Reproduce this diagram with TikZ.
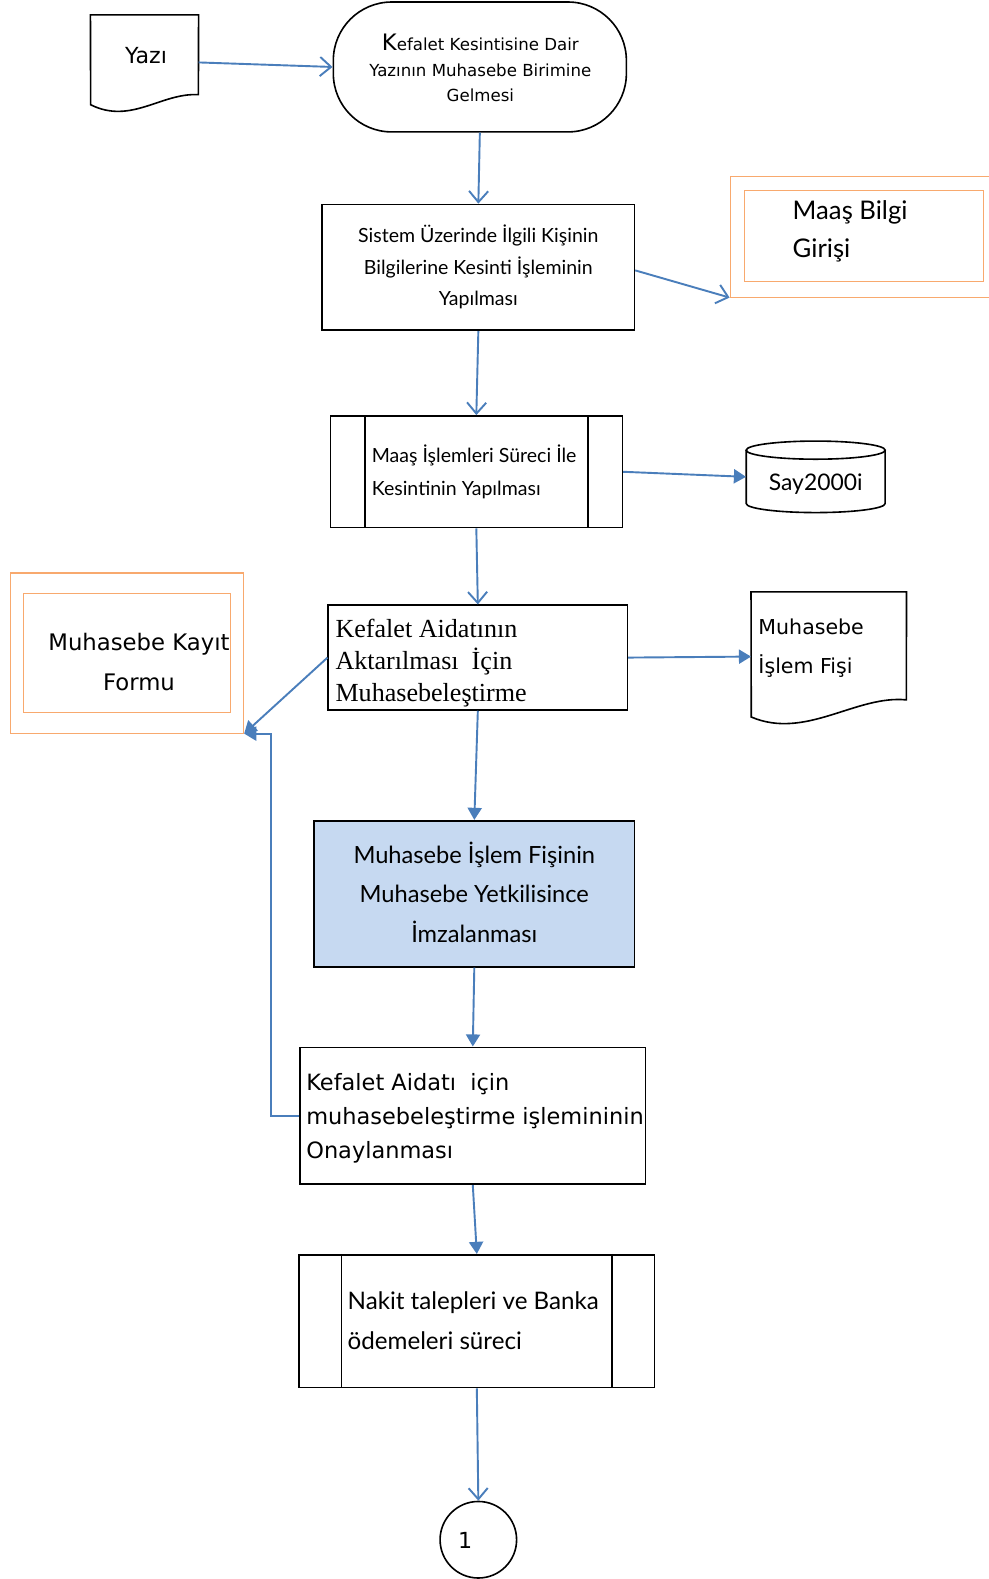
\documentclass[tikz,border=0pt]{standalone}
\usepackage{fontspec}
\usetikzlibrary{arrows.meta,calc}
\newfontfamily\tah{DejaVu Sans}
\newfontfamily\gil{Lato}
\newfontfamily\tnr{Liberation Serif}
\definecolor{ablue}{HTML}{4A7EBB}
\definecolor{orng}{HTML}{F8A96E}
\definecolor{lblue}{HTML}{C6D9F1}
\tikzset{
  proc/.style={draw=black, line width=1.6pt, inner sep=0pt, rectangle},
  ghost/.style={inner sep=0pt, rectangle},
  obox/.style={draw=orng, line width=1pt, inner sep=0pt, rectangle},
  oarr/.style={ablue, line width=1.9pt, -{Straight Barb[length=11pt,width=19pt,line width=1.9pt]}},
  farr/.style={ablue, line width=1.9pt, -{Triangle[length=12pt,width=14pt]}},
  txt/.style={inner sep=0pt, text=black},
}
\begin{document}
\begin{tikzpicture}[x=1pt,y=-1pt]
\useasboundingbox (0,0) rectangle (982,1568);
\fill[white] (0,0) rectangle (982,1568);

% Yazi document
\node[ghost, minimum width=107pt, minimum height=94pt] (yazi) at (143.5,62) {};
\draw[line width=1.6pt] (yazi.north west) -- (yazi.north east) -- (197,94) .. controls (160,92) and (130,124) .. (90,104) -- cycle;
\node[txt, font=\tah\fontsize{22}{26}\selectfont] (yazit) at (145,55) {Yazı};

% terminator
\node[proc, rounded corners=58pt, minimum width=291pt, minimum height=129pt] (term) at (476.5,66.5) {};
\node[txt, align=center, font=\tah\fontsize{16.5}{25.5}\selectfont] (termt) at (477,67.5) {{\fontsize{22.5}{25.5}\selectfont K}efalet Kesintisine Dair\\Yazının Muhasebe Birimine\\Gelmesi};

% box 2
\node[proc, minimum width=310pt, minimum height=125pt] (b2) at (475,265.5) {};
\node[txt, align=center, font=\gil\fontsize{19.4}{31.5}\selectfont] (b2t) at (475,265) {Sistem Üzerinde İlgili Kişinin\\Bilgilerine Kesinti İşleminin\\Yapılması};

% Maas Bilgi Girisi
\node[obox, minimum width=265pt, minimum height=120pt] (mbo) at (857.5,235) {};
\node[obox, minimum width=238pt, minimum height=91pt] (mbi) at (858,234.5) {};
\node[txt, anchor=west, align=left, font=\gil\fontsize{25.5}{38}\selectfont] (mbt) at (787,230) {Maaş Bilgi\\Girişi};

% predefined process 1
\node[proc, minimum width=290pt, minimum height=111pt] (pp1) at (473,468.5) {};
\draw[line width=1.6pt] ($(pp1.north west)+(35,0)$) -- ($(pp1.south west)+(35,0)$);
\draw[line width=1.6pt] ($(pp1.north east)+(-35,0)$) -- ($(pp1.south east)+(-35,0)$);
\node[txt, anchor=west, align=left, font=\gil\fontsize{19.4}{32}\selectfont] (pp1t) at (369,468.5) {Maaş İşlemleri Süreci İle\\Kesintinin Yapılması};

% cylinder
\node[ghost, minimum width=138pt, minimum height=71pt] (cyl) at (810,473.5) {};
\draw[line width=1.6pt] (741,447) -- (741,500) arc[start angle=180, end angle=0, x radius=69, y radius=9] -- (879,447);
\draw[line width=1.6pt] (810,447) ellipse [x radius=69, y radius=9];
\node[txt, font=\gil\fontsize{22.7}{26}\selectfont] (cylt) at (810,481) {Say2000i};

% Kefalet Aidatinin box
\node[proc, minimum width=297pt, minimum height=104pt] (kb) at (474.5,653) {};
\node[txt, anchor=west, align=left, font=\tnr\fontsize{25.9}{32}\selectfont] (kbt) at (333,658.5) {Kefalet Aidatının\\Aktarılması\ \ İçin\\Muhasebeleştirme};

% Muhasebe Islem Fisi document
\node[ghost, minimum width=154pt, minimum height=128pt] (doc2) at (823,652) {};
\draw[line width=1.6pt] (doc2.north west) -- (doc2.north east) -- (900,695) .. controls (850,690) and (800,735) .. (746,712) -- cycle;
\node[txt, anchor=west, align=left, font=\tah\fontsize{20.4}{39}\selectfont] (doc2t) at (753,643.5) {Muhasebe\\İşlem Fişi};

% Muhasebe Kayit Formu
\node[obox, minimum width=232pt, minimum height=159pt] (mkfo) at (126,648.5) {};
\node[obox, minimum width=206pt, minimum height=119pt] (mkfi) at (126,648.5) {};
\node[txt, align=center, font=\tah\fontsize{22.6}{39}\selectfont] (mkft) at (138,657.5) {Muhasebe Kayıt\\Formu};

% blue box
\node[proc, fill=lblue, minimum width=318pt, minimum height=145pt] (blue) at (471,887.5) {};
\node[txt, align=center, font=\gil\fontsize{23.5}{39.5}\selectfont] (bluet) at (471,886) {Muhasebe İşlem Fişinin\\Muhasebe Yetkilisince\\İmzalanması};

% Kefalet Aidati icin box
\node[proc, minimum width=343pt, minimum height=136pt] (kai) at (469.5,1108) {};
\node[txt, anchor=west, align=left, font=\tah\fontsize{22.3}{33.5}\selectfont] (kait) at (304,1110.5) {Kefalet Aidatı\ \ için\\muhasebeleştirme işlemininin\\Onaylanması};

% predefined process 2
\node[proc, minimum width=353pt, minimum height=132pt] (pp2) at (473.5,1312) {};
\draw[line width=1.6pt] ($(pp2.north west)+(43,0)$) -- ($(pp2.south west)+(43,0)$);
\draw[line width=1.6pt] ($(pp2.north east)+(-43,0)$) -- ($(pp2.south east)+(-43,0)$);
\node[txt, anchor=west, align=left, font=\gil\fontsize{24}{39}\selectfont] (pp2t) at (345,1311.5) {Nakit talepleri ve Banka\\ödemeleri süreci};

% connector circle
\node[draw=black, line width=1.6pt, circle, minimum size=76pt, inner sep=0pt] (c1) at (475,1529) {};
\node[txt, font=\tah\fontsize{22}{26}\selectfont] (c1t) at (462,1530) {1};

% connectors
\draw[oarr] (yazi.east) -- (term.west);
\draw[oarr] (term.south) -- (b2.north);
\draw[oarr] ($(b2.east)+(0,3)$) -- (mbo.south west);
\draw[oarr] (b2.south) -- (pp1.north);
\draw[farr] (pp1.east) -- (cyl.west);
\draw[oarr] (pp1.south) -- (kb.north);
\draw[farr] (kb.east) -- (doc2.west);
\draw[farr] (kb.west) -- (mkfo.south east);
\draw[farr] (kb.south) -- (blue.north);
\draw[farr] (blue.south) -- (kai.north);
\draw[farr] (kai.west) -- ++(-28,0) |- (mkfo.south east);
\draw[farr] (kai.south) -- (pp2.north);
\draw[oarr] (pp2.south) -- (c1.north);
\end{tikzpicture}
\end{document}
